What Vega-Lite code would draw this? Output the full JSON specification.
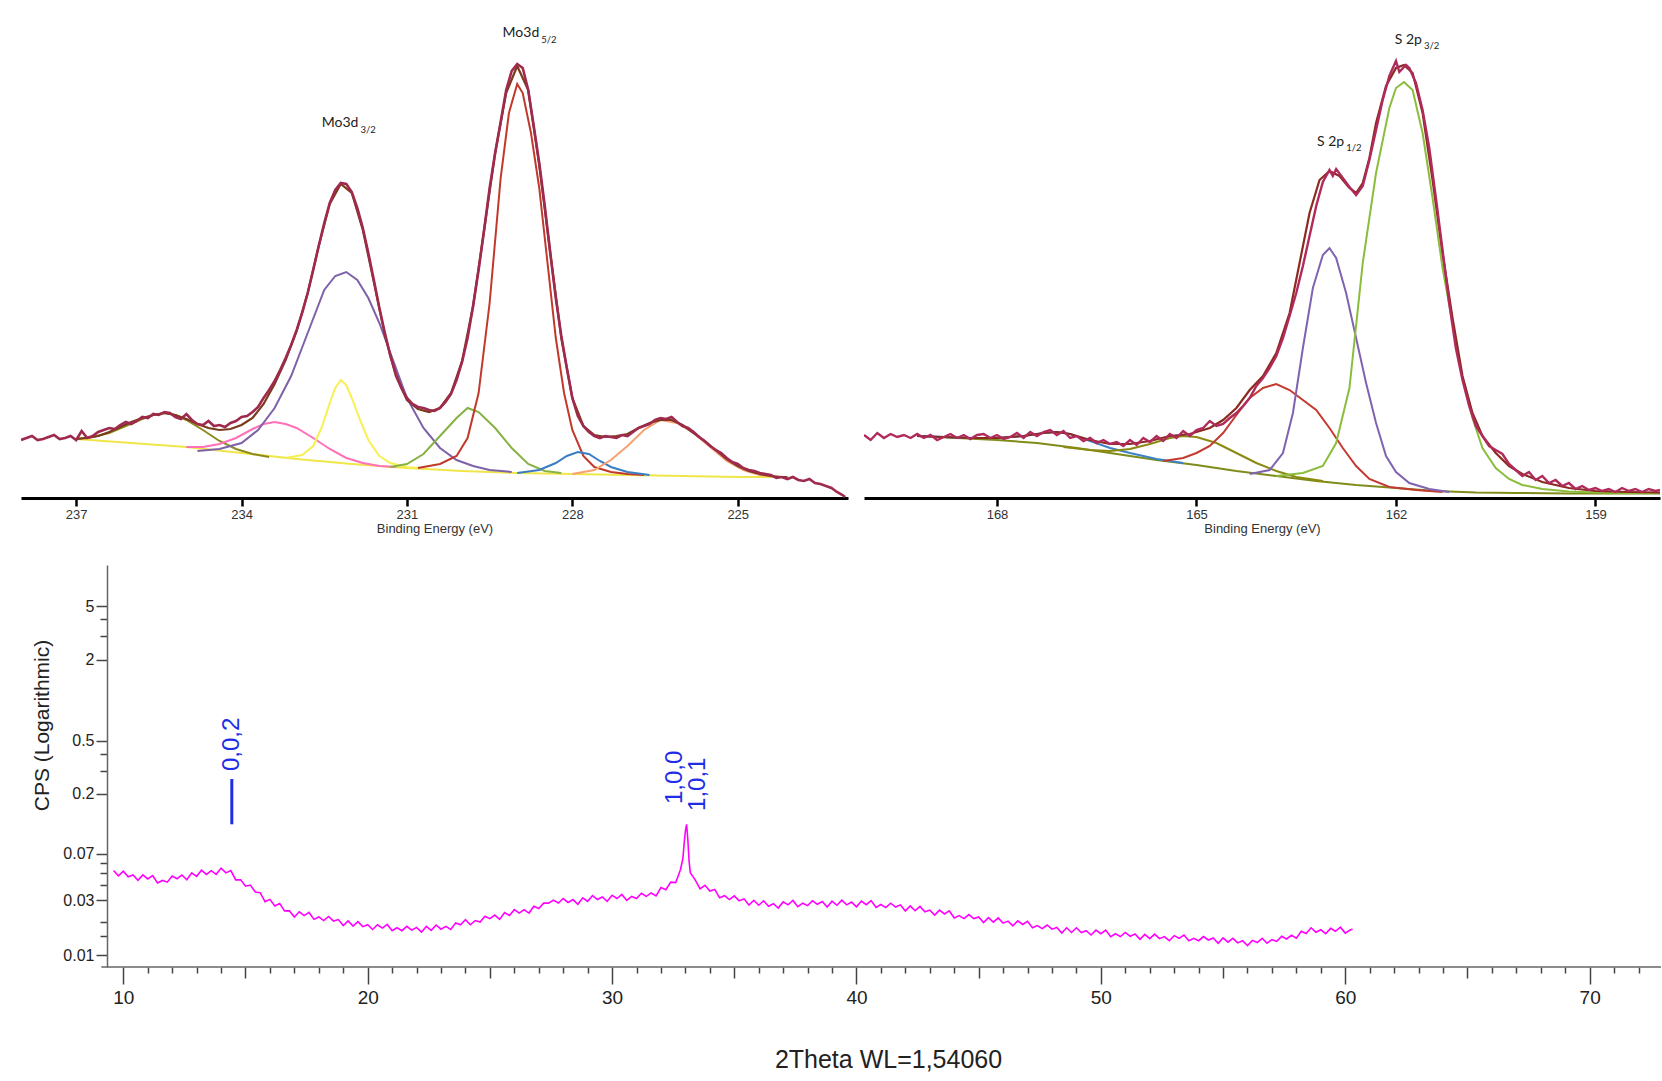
{
"$schema": "https://vega.github.io/schema/vega-lite/v6.json",
"padding": {"left": 21, "top": 10, "right": 0, "bottom": 0},
"autosize": {"type": "pad"},
"background": "white",
"config": {"view": {"stroke": null}, "axis": {"grid": false}},
"datasets": {
"mo_comp": [
{"s":"baseline","e":237.0,"h":59},{"s":"baseline","e":236.0,"h":55},{"s":"baseline","e":235.0,"h":51},{"s":"baseline","e":234.0,"h":45},{"s":"baseline","e":233.0,"h":39},{"s":"baseline","e":232.0,"h":34},{"s":"baseline","e":231.0,"h":30},{"s":"baseline","e":230.0,"h":27},{"s":"baseline","e":229.0,"h":25},{"s":"baseline","e":228.0,"h":24},{"s":"baseline","e":227.0,"h":23},{"s":"baseline","e":226.0,"h":22},{"s":"baseline","e":225.0,"h":21},{"s":"baseline","e":224.1,"h":21},
{"s":"olive","e":237.0,"h":59},{"s":"olive","e":236.7,"h":61},{"s":"olive","e":236.4,"h":65},{"s":"olive","e":236.1,"h":72},{"s":"olive","e":235.8,"h":79},{"s":"olive","e":235.6,"h":83},{"s":"olive","e":235.4,"h":85},{"s":"olive","e":235.2,"h":83},{"s":"olive","e":235.0,"h":78},{"s":"olive","e":234.7,"h":68},{"s":"olive","e":234.4,"h":57},{"s":"olive","e":234.1,"h":49},{"s":"olive","e":233.8,"h":44},{"s":"olive","e":233.5,"h":41},
{"s":"pink","e":235.0,"h":51},{"s":"pink","e":234.7,"h":51},{"s":"pink","e":234.4,"h":54},{"s":"pink","e":234.1,"h":60},{"s":"pink","e":233.8,"h":69},{"s":"pink","e":233.6,"h":74},{"s":"pink","e":233.4,"h":76},{"s":"pink","e":233.2,"h":74},{"s":"pink","e":233.0,"h":70},{"s":"pink","e":232.7,"h":60},{"s":"pink","e":232.4,"h":49},{"s":"pink","e":232.1,"h":40},{"s":"pink","e":231.8,"h":35},{"s":"pink","e":231.5,"h":32},{"s":"pink","e":231.2,"h":31},
{"s":"yellow","e":233.2,"h":40},{"s":"yellow","e":232.9,"h":43},{"s":"yellow","e":232.7,"h":52},{"s":"yellow","e":232.55,"h":70},{"s":"yellow","e":232.4,"h":95},{"s":"yellow","e":232.3,"h":110},{"s":"yellow","e":232.2,"h":118},{"s":"yellow","e":232.1,"h":113},{"s":"yellow","e":232.0,"h":100},{"s":"yellow","e":231.85,"h":78},{"s":"yellow","e":231.7,"h":58},{"s":"yellow","e":231.5,"h":42},{"s":"yellow","e":231.3,"h":35},{"s":"yellow","e":231.0,"h":31},{"s":"yellow","e":230.8,"h":30},
{"s":"purple","e":234.8,"h":47},{"s":"purple","e":234.4,"h":49},{"s":"purple","e":234.0,"h":55},{"s":"purple","e":233.7,"h":68},{"s":"purple","e":233.4,"h":90},{"s":"purple","e":233.1,"h":122},{"s":"purple","e":232.8,"h":165},{"s":"purple","e":232.5,"h":208},{"s":"purple","e":232.3,"h":222},{"s":"purple","e":232.1,"h":226},{"s":"purple","e":231.9,"h":218},{"s":"purple","e":231.7,"h":200},{"s":"purple","e":231.5,"h":175},{"s":"purple","e":231.3,"h":145},{"s":"purple","e":231.0,"h":100},{"s":"purple","e":230.7,"h":70},{"s":"purple","e":230.4,"h":50},{"s":"purple","e":230.1,"h":38},{"s":"purple","e":229.8,"h":32},{"s":"purple","e":229.5,"h":28},{"s":"purple","e":229.1,"h":26},
{"s":"green","e":231.3,"h":31},{"s":"green","e":231.0,"h":34},{"s":"green","e":230.7,"h":44},{"s":"green","e":230.4,"h":62},{"s":"green","e":230.1,"h":80},{"s":"green","e":229.9,"h":90},{"s":"green","e":229.7,"h":86},{"s":"green","e":229.4,"h":70},{"s":"green","e":229.1,"h":50},{"s":"green","e":228.8,"h":34},{"s":"green","e":228.5,"h":27},{"s":"green","e":228.2,"h":25},
{"s":"red","e":230.8,"h":30},{"s":"red","e":230.4,"h":34},{"s":"red","e":230.1,"h":42},{"s":"red","e":229.9,"h":60},{"s":"red","e":229.7,"h":105},{"s":"red","e":229.5,"h":195},{"s":"red","e":229.3,"h":320},{"s":"red","e":229.15,"h":385},{"s":"red","e":229.0,"h":414},{"s":"red","e":228.9,"h":405},{"s":"red","e":228.75,"h":365},{"s":"red","e":228.6,"h":310},{"s":"red","e":228.45,"h":235},{"s":"red","e":228.3,"h":160},{"s":"red","e":228.15,"h":105},{"s":"red","e":228.0,"h":68},{"s":"red","e":227.8,"h":42},{"s":"red","e":227.6,"h":31},{"s":"red","e":227.3,"h":26},{"s":"red","e":227.0,"h":24},{"s":"red","e":226.7,"h":23},
{"s":"blue","e":229.0,"h":25},{"s":"blue","e":228.6,"h":28},{"s":"blue","e":228.3,"h":35},{"s":"blue","e":228.1,"h":42},{"s":"blue","e":227.9,"h":46},{"s":"blue","e":227.7,"h":44},{"s":"blue","e":227.5,"h":37},{"s":"blue","e":227.3,"h":31},{"s":"blue","e":227.0,"h":26},{"s":"blue","e":226.6,"h":23},
{"s":"orange","e":228.0,"h":24},{"s":"orange","e":227.6,"h":28},{"s":"orange","e":227.3,"h":38},{"s":"orange","e":227.0,"h":52},{"s":"orange","e":226.7,"h":68},{"s":"orange","e":226.4,"h":78},{"s":"orange","e":226.1,"h":75},{"s":"orange","e":225.8,"h":65},{"s":"orange","e":225.5,"h":51},{"s":"orange","e":225.2,"h":37},{"s":"orange","e":224.9,"h":28},{"s":"orange","e":224.6,"h":23},{"s":"orange","e":224.3,"h":21}
],
"mo_env": [
{"e":237.0,"h":59},{"e":236.8,"h":60},{"e":236.6,"h":62},{"e":236.4,"h":66},{"e":236.2,"h":71},{"e":236.0,"h":76},{"e":235.8,"h":80},{"e":235.6,"h":83},{"e":235.4,"h":85},{"e":235.2,"h":83},{"e":235.0,"h":79},{"e":234.8,"h":74},{"e":234.6,"h":70},{"e":234.4,"h":68},{"e":234.2,"h":69},{"e":234.0,"h":73},{"e":233.8,"h":80},{"e":233.6,"h":94},{"e":233.4,"h":114},{"e":233.2,"h":138},{"e":233.0,"h":167},{"e":232.8,"h":205},{"e":232.6,"h":252},{"e":232.4,"h":294},{"e":232.2,"h":314},{"e":232.0,"h":305},{"e":231.8,"h":268},{"e":231.6,"h":216},{"e":231.4,"h":163},{"e":231.2,"h":122},{"e":231.0,"h":98},{"e":230.8,"h":89},{"e":230.6,"h":86},{"e":230.4,"h":90},{"e":230.2,"h":105},{"e":230.0,"h":137},{"e":229.8,"h":192},{"e":229.6,"h":268},{"e":229.4,"h":345},{"e":229.2,"h":405},{"e":229.0,"h":432},{"e":228.8,"h":408},{"e":228.6,"h":333},{"e":228.4,"h":245},{"e":228.2,"h":160},{"e":228.0,"h":100},{"e":227.8,"h":72},{"e":227.6,"h":63},{"e":227.4,"h":61},{"e":227.2,"h":62},{"e":227.0,"h":64},{"e":226.8,"h":70},{"e":226.6,"h":75},{"e":226.4,"h":78},{"e":226.2,"h":78},{"e":226.0,"h":73},{"e":225.8,"h":65},{"e":225.6,"h":57},{"e":225.4,"h":48},{"e":225.2,"h":39},{"e":225.0,"h":32},{"e":224.8,"h":27},{"e":224.6,"h":24},{"e":224.4,"h":22},{"e":224.2,"h":21},{"e":224.1,"h":21}
],
"mo_raw": [
{"e":238.0,"h":58},{"e":237.9,"h":60},{"e":237.8,"h":62},{"e":237.7,"h":58},{"e":237.6,"h":59},{"e":237.5,"h":61},{"e":237.4,"h":63},{"e":237.3,"h":59},{"e":237.2,"h":60},{"e":237.1,"h":62},{"e":237.0,"h":58},{"e":236.9,"h":67},{"e":236.8,"h":60},{"e":236.7,"h":62},{"e":236.6,"h":66},{"e":236.5,"h":68},{"e":236.4,"h":70},{"e":236.3,"h":69},{"e":236.2,"h":73},{"e":236.1,"h":76},{"e":236.0,"h":74},{"e":235.9,"h":77},{"e":235.8,"h":81},{"e":235.7,"h":80},{"e":235.6,"h":84},{"e":235.5,"h":83},{"e":235.4,"h":86},{"e":235.3,"h":85},{"e":235.2,"h":81},{"e":235.1,"h":79},{"e":235.0,"h":84},{"e":234.9,"h":78},{"e":234.8,"h":74},{"e":234.7,"h":73},{"e":234.6,"h":77},{"e":234.5,"h":72},{"e":234.4,"h":73},{"e":234.3,"h":71},{"e":234.2,"h":75},{"e":234.1,"h":77},{"e":234.0,"h":81},{"e":233.9,"h":82},{"e":233.8,"h":86},{"e":233.7,"h":91},{"e":233.6,"h":100},{"e":233.5,"h":108},{"e":233.4,"h":117},{"e":233.3,"h":128},{"e":233.2,"h":140},{"e":233.1,"h":153},{"e":233.0,"h":168},{"e":232.9,"h":185},{"e":232.8,"h":205},{"e":232.7,"h":228},{"e":232.6,"h":252},{"e":232.5,"h":275},{"e":232.4,"h":295},{"e":232.3,"h":308},{"e":232.2,"h":315},{"e":232.1,"h":314},{"e":232.0,"h":306},{"e":231.9,"h":290},{"e":231.8,"h":270},{"e":231.7,"h":245},{"e":231.6,"h":218},{"e":231.5,"h":190},{"e":231.4,"h":165},{"e":231.3,"h":142},{"e":231.2,"h":124},{"e":231.1,"h":110},{"e":231.0,"h":100},{"e":230.9,"h":94},{"e":230.8,"h":91},{"e":230.7,"h":90},{"e":230.6,"h":88},{"e":230.5,"h":87},{"e":230.4,"h":90},{"e":230.3,"h":96},{"e":230.2,"h":104},{"e":230.1,"h":118},{"e":230.0,"h":136},{"e":229.9,"h":160},{"e":229.8,"h":192},{"e":229.7,"h":228},{"e":229.6,"h":268},{"e":229.5,"h":310},{"e":229.4,"h":345},{"e":229.3,"h":376},{"e":229.2,"h":408},{"e":229.1,"h":427},{"e":229.0,"h":434},{"e":228.9,"h":430},{"e":228.8,"h":408},{"e":228.7,"h":372},{"e":228.6,"h":335},{"e":228.5,"h":292},{"e":228.4,"h":245},{"e":228.3,"h":200},{"e":228.2,"h":162},{"e":228.1,"h":130},{"e":228.0,"h":100},{"e":227.9,"h":82},{"e":227.8,"h":72},{"e":227.7,"h":66},{"e":227.6,"h":62},{"e":227.5,"h":60},{"e":227.4,"h":62},{"e":227.3,"h":61},{"e":227.2,"h":60},{"e":227.1,"h":63},{"e":227.0,"h":62},{"e":226.9,"h":66},{"e":226.8,"h":70},{"e":226.7,"h":72},{"e":226.6,"h":74},{"e":226.5,"h":78},{"e":226.4,"h":80},{"e":226.3,"h":79},{"e":226.2,"h":81},{"e":226.1,"h":76},{"e":226.0,"h":72},{"e":225.9,"h":70},{"e":225.8,"h":66},{"e":225.7,"h":61},{"e":225.6,"h":57},{"e":225.5,"h":52},{"e":225.4,"h":48},{"e":225.3,"h":45},{"e":225.2,"h":40},{"e":225.1,"h":36},{"e":225.0,"h":34},{"e":224.9,"h":30},{"e":224.8,"h":28},{"e":224.7,"h":27},{"e":224.6,"h":25},{"e":224.5,"h":24},{"e":224.4,"h":23},{"e":224.3,"h":20},{"e":224.2,"h":21},{"e":224.1,"h":19},{"e":224.0,"h":21},{"e":223.9,"h":18},{"e":223.8,"h":17},{"e":223.7,"h":19},{"e":223.6,"h":15},{"e":223.5,"h":14},{"e":223.4,"h":12},{"e":223.3,"h":10},{"e":223.2,"h":6},{"e":223.1,"h":3},{"e":223.05,"h":1}
],
"mo_lab": [{"e":231.88,"h":375,"m":"Mo3d","sub":"3/2"},{"e":228.6,"h":465,"m":"Mo3d","sub":"5/2"}],
"s_comp": [
{"s":"baseline","e":169.2,"h":62},{"s":"baseline","e":168.6,"h":60},{"s":"baseline","e":168.0,"h":58},{"s":"baseline","e":167.4,"h":55},{"s":"baseline","e":166.8,"h":50},{"s":"baseline","e":166.2,"h":44},{"s":"baseline","e":165.6,"h":38},{"s":"baseline","e":165.0,"h":33},{"s":"baseline","e":164.4,"h":27},{"s":"baseline","e":163.8,"h":22},{"s":"baseline","e":163.2,"h":17},{"s":"baseline","e":162.6,"h":13},{"s":"baseline","e":162.0,"h":10},{"s":"baseline","e":161.4,"h":7},{"s":"baseline","e":160.8,"h":5.5},{"s":"baseline","e":160.2,"h":5},{"s":"baseline","e":159.4,"h":4.5},{"s":"baseline","e":158.03,"h":4.5},
{"s":"blue","e":169.2,"h":62},{"s":"blue","e":168.8,"h":61},{"s":"blue","e":168.4,"h":60},{"s":"blue","e":168.0,"h":60},{"s":"blue","e":167.6,"h":62},{"s":"blue","e":167.3,"h":65},{"s":"blue","e":167.1,"h":66},{"s":"blue","e":166.9,"h":64},{"s":"blue","e":166.6,"h":57},{"s":"blue","e":166.3,"h":50},{"s":"blue","e":166.0,"h":45},{"s":"blue","e":165.6,"h":39},{"s":"blue","e":165.2,"h":35},
{"s":"olive","e":167.0,"h":51},{"s":"olive","e":166.6,"h":48},{"s":"olive","e":166.3,"h":47},{"s":"olive","e":166.0,"h":49},{"s":"olive","e":165.7,"h":54},{"s":"olive","e":165.4,"h":60},{"s":"olive","e":165.2,"h":62},{"s":"olive","e":165.0,"h":61},{"s":"olive","e":164.7,"h":55},{"s":"olive","e":164.4,"h":45},{"s":"olive","e":164.1,"h":35},{"s":"olive","e":163.8,"h":27},{"s":"olive","e":163.5,"h":21},{"s":"olive","e":163.1,"h":17},
{"s":"red","e":165.5,"h":37},{"s":"red","e":165.2,"h":40},{"s":"red","e":165.0,"h":45},{"s":"red","e":164.8,"h":52},{"s":"red","e":164.6,"h":65},{"s":"red","e":164.4,"h":83},{"s":"red","e":164.2,"h":100},{"s":"red","e":164.0,"h":110},{"s":"red","e":163.8,"h":114},{"s":"red","e":163.6,"h":108},{"s":"red","e":163.4,"h":98},{"s":"red","e":163.2,"h":88},{"s":"red","e":163.0,"h":70},{"s":"red","e":162.8,"h":50},{"s":"red","e":162.6,"h":32},{"s":"red","e":162.4,"h":19},{"s":"red","e":162.1,"h":11},{"s":"red","e":161.7,"h":8},{"s":"red","e":161.3,"h":6},
{"s":"purple","e":164.2,"h":24},{"s":"purple","e":163.9,"h":28},{"s":"purple","e":163.7,"h":45},{"s":"purple","e":163.55,"h":85},{"s":"purple","e":163.4,"h":150},{"s":"purple","e":163.25,"h":210},{"s":"purple","e":163.1,"h":243},{"s":"purple","e":163.0,"h":250},{"s":"purple","e":162.9,"h":240},{"s":"purple","e":162.75,"h":205},{"s":"purple","e":162.6,"h":160},{"s":"purple","e":162.45,"h":115},{"s":"purple","e":162.3,"h":75},{"s":"purple","e":162.15,"h":42},{"s":"purple","e":162.0,"h":26},{"s":"purple","e":161.8,"h":15},{"s":"purple","e":161.5,"h":9},{"s":"purple","e":161.2,"h":6},
{"s":"green","e":163.8,"h":22},{"s":"green","e":163.4,"h":25},{"s":"green","e":163.1,"h":32},{"s":"green","e":162.9,"h":55},{"s":"green","e":162.7,"h":110},{"s":"green","e":162.5,"h":235},{"s":"green","e":162.3,"h":325},{"s":"green","e":162.1,"h":390},{"s":"green","e":162.0,"h":410},{"s":"green","e":161.88,"h":416},{"s":"green","e":161.75,"h":408},{"s":"green","e":161.6,"h":365},{"s":"green","e":161.45,"h":300},{"s":"green","e":161.3,"h":230},{"s":"green","e":161.15,"h":175},{"s":"green","e":161.0,"h":120},{"s":"green","e":160.85,"h":80},{"s":"green","e":160.7,"h":50},{"s":"green","e":160.5,"h":30},{"s":"green","e":160.3,"h":19},{"s":"green","e":160.1,"h":13},{"s":"green","e":159.8,"h":9},{"s":"green","e":159.4,"h":6.5},{"s":"green","e":159.0,"h":5.5},{"s":"green","e":158.5,"h":5},{"s":"green","e":158.03,"h":5}
],
"s_env": [
{"e":169.2,"h":62},{"e":168.8,"h":61},{"e":168.4,"h":60},{"e":168.0,"h":60},{"e":167.6,"h":62},{"e":167.3,"h":65},{"e":167.1,"h":66},{"e":166.9,"h":64},{"e":166.6,"h":58},{"e":166.3,"h":54},{"e":166.0,"h":54},{"e":165.7,"h":57},{"e":165.4,"h":62},{"e":165.1,"h":64},{"e":164.8,"h":70},{"e":164.6,"h":78},{"e":164.4,"h":90},{"e":164.2,"h":108},{"e":164.0,"h":122},{"e":163.8,"h":145},{"e":163.6,"h":185},{"e":163.45,"h":235},{"e":163.3,"h":285},{"e":163.15,"h":318},{"e":163.0,"h":327},{"e":162.85,"h":322},{"e":162.7,"h":310},{"e":162.6,"h":305},{"e":162.5,"h":315},{"e":162.4,"h":340},{"e":162.3,"h":375},{"e":162.15,"h":412},{"e":162.0,"h":430},{"e":161.88,"h":433},{"e":161.75,"h":425},{"e":161.6,"h":385},{"e":161.45,"h":318},{"e":161.3,"h":245},{"e":161.15,"h":180},{"e":161.0,"h":122},{"e":160.85,"h":85},{"e":160.7,"h":62},{"e":160.5,"h":45},{"e":160.3,"h":32},{"e":160.1,"h":24},{"e":159.8,"h":16},{"e":159.4,"h":10},{"e":159.0,"h":7},{"e":158.5,"h":6},{"e":158.03,"h":5.5}
],
"s_raw": [
{"e":170.0,"h":63},{"e":169.9,"h":58},{"e":169.8,"h":65},{"e":169.7,"h":60},{"e":169.6,"h":64},{"e":169.5,"h":61},{"e":169.4,"h":63},{"e":169.3,"h":60},{"e":169.2,"h":64},{"e":169.1,"h":60},{"e":169.0,"h":63},{"e":168.9,"h":58},{"e":168.8,"h":61},{"e":168.7,"h":64},{"e":168.6,"h":60},{"e":168.5,"h":63},{"e":168.4,"h":59},{"e":168.3,"h":63},{"e":168.2,"h":64},{"e":168.1,"h":60},{"e":168.0,"h":63},{"e":167.9,"h":59},{"e":167.8,"h":61},{"e":167.7,"h":65},{"e":167.6,"h":60},{"e":167.5,"h":66},{"e":167.4,"h":62},{"e":167.3,"h":66},{"e":167.2,"h":68},{"e":167.1,"h":63},{"e":167.0,"h":67},{"e":166.9,"h":60},{"e":166.8,"h":62},{"e":166.7,"h":57},{"e":166.6,"h":60},{"e":166.5,"h":55},{"e":166.4,"h":58},{"e":166.3,"h":54},{"e":166.2,"h":56},{"e":166.1,"h":52},{"e":166.0,"h":58},{"e":165.9,"h":53},{"e":165.8,"h":60},{"e":165.7,"h":56},{"e":165.6,"h":62},{"e":165.5,"h":57},{"e":165.4,"h":64},{"e":165.3,"h":60},{"e":165.2,"h":67},{"e":165.1,"h":62},{"e":165.0,"h":68},{"e":164.9,"h":70},{"e":164.8,"h":77},{"e":164.7,"h":72},{"e":164.6,"h":74},{"e":164.5,"h":80},{"e":164.4,"h":85},{"e":164.3,"h":92},{"e":164.2,"h":100},{"e":164.1,"h":112},{"e":164.0,"h":120},{"e":163.9,"h":130},{"e":163.8,"h":142},{"e":163.7,"h":160},{"e":163.6,"h":182},{"e":163.5,"h":205},{"e":163.4,"h":232},{"e":163.3,"h":262},{"e":163.2,"h":292},{"e":163.1,"h":316},{"e":163.0,"h":328},{"e":162.95,"h":322},{"e":162.9,"h":329},{"e":162.8,"h":320},{"e":162.7,"h":311},{"e":162.6,"h":303},{"e":162.5,"h":312},{"e":162.4,"h":338},{"e":162.3,"h":368},{"e":162.2,"h":398},{"e":162.1,"h":422},{"e":162.0,"h":437},{"e":161.95,"h":426},{"e":161.85,"h":433},{"e":161.8,"h":430},{"e":161.7,"h":415},{"e":161.6,"h":388},{"e":161.5,"h":350},{"e":161.4,"h":300},{"e":161.3,"h":248},{"e":161.2,"h":195},{"e":161.1,"h":150},{"e":161.0,"h":118},{"e":160.9,"h":92},{"e":160.8,"h":72},{"e":160.7,"h":62},{"e":160.6,"h":52},{"e":160.5,"h":48},{"e":160.4,"h":44},{"e":160.3,"h":34},{"e":160.2,"h":28},{"e":160.1,"h":22},{"e":160.0,"h":26},{"e":159.9,"h":18},{"e":159.8,"h":22},{"e":159.7,"h":15},{"e":159.6,"h":18},{"e":159.5,"h":12},{"e":159.4,"h":15},{"e":159.3,"h":9},{"e":159.2,"h":12},{"e":159.1,"h":8},{"e":159.0,"h":10},{"e":158.9,"h":7},{"e":158.8,"h":9},{"e":158.7,"h":6},{"e":158.6,"h":10},{"e":158.5,"h":7},{"e":158.4,"h":9},{"e":158.3,"h":6},{"e":158.2,"h":9},{"e":158.1,"h":7},{"e":158.03,"h":8}
],
"s_lab": [{"e":162.78,"h":356,"m":"S 2p","sub":"1/2"},{"e":161.61,"h":458,"m":"S 2p","sub":"3/2"}],
"xrd": [
{"t":9.6,"c":0.052},{"t":9.8,"c":0.0473},{"t":10.0,"c":0.0514},{"t":10.2,"c":0.0464},{"t":10.4,"c":0.048},{"t":10.6,"c":0.0436},{"t":10.8,"c":0.048},{"t":11.0,"c":0.0446},{"t":11.2,"c":0.0474},{"t":11.4,"c":0.0415},{"t":11.6,"c":0.0434},{"t":11.8,"c":0.0421},{"t":12.0,"c":0.047},{"t":12.2,"c":0.0448},{"t":12.4,"c":0.048},{"t":12.6,"c":0.044},{"t":12.8,"c":0.0499},{"t":13.0,"c":0.0468},{"t":13.2,"c":0.0523},{"t":13.4,"c":0.0485},{"t":13.6,"c":0.0518},{"t":13.8,"c":0.0485},{"t":14.0,"c":0.0543},{"t":14.2,"c":0.0498},{"t":14.4,"c":0.052},{"t":14.6,"c":0.0439},{"t":14.8,"c":0.0439},{"t":15.0,"c":0.0391},{"t":15.2,"c":0.0399},{"t":15.4,"c":0.0351},{"t":15.6,"c":0.0347},{"t":15.8,"c":0.0293},{"t":16.0,"c":0.0306},{"t":16.2,"c":0.027},{"t":16.4,"c":0.0283},{"t":16.6,"c":0.0246},{"t":16.8,"c":0.0246},{"t":17.0,"c":0.0219},{"t":17.2,"c":0.0242},{"t":17.4,"c":0.0225},{"t":17.6,"c":0.0239},{"t":17.8,"c":0.0209},{"t":18.0,"c":0.0219},{"t":18.2,"c":0.0204},{"t":18.4,"c":0.0221},{"t":18.6,"c":0.0202},{"t":18.8,"c":0.0208},{"t":19.0,"c":0.0185},{"t":19.2,"c":0.0203},{"t":19.4,"c":0.0183},{"t":19.6,"c":0.02},{"t":19.8,"c":0.0181},{"t":20.0,"c":0.0188},{"t":20.2,"c":0.0171},{"t":20.4,"c":0.0188},{"t":20.6,"c":0.0176},{"t":20.8,"c":0.0189},{"t":21.0,"c":0.0167},{"t":21.2,"c":0.0177},{"t":21.4,"c":0.0167},{"t":21.6,"c":0.0182},{"t":21.8,"c":0.0169},{"t":22.0,"c":0.0178},{"t":22.2,"c":0.0162},{"t":22.4,"c":0.0182},{"t":22.6,"c":0.0168},{"t":22.8,"c":0.0187},{"t":23.0,"c":0.0172},{"t":23.2,"c":0.0182},{"t":23.4,"c":0.0171},{"t":23.6,"c":0.0195},{"t":23.8,"c":0.0188},{"t":24.0,"c":0.0208},{"t":24.2,"c":0.0188},{"t":24.4,"c":0.0204},{"t":24.6,"c":0.0198},{"t":24.8,"c":0.0222},{"t":25.0,"c":0.0212},{"t":25.2,"c":0.0227},{"t":25.4,"c":0.0209},{"t":25.6,"c":0.0238},{"t":25.8,"c":0.0225},{"t":26.0,"c":0.0252},{"t":26.2,"c":0.0236},{"t":26.4,"c":0.0252},{"t":26.6,"c":0.0236},{"t":26.8,"c":0.0269},{"t":27.0,"c":0.0258},{"t":27.2,"c":0.0285},{"t":27.4,"c":0.0285},{"t":27.6,"c":0.0302},{"t":27.8,"c":0.0286},{"t":28.0,"c":0.0311},{"t":28.2,"c":0.0289},{"t":28.4,"c":0.0305},{"t":28.6,"c":0.0279},{"t":28.8,"c":0.0315},{"t":29.0,"c":0.0295},{"t":29.2,"c":0.0329},{"t":29.4,"c":0.0305},{"t":29.6,"c":0.032},{"t":29.8,"c":0.0295},{"t":30.0,"c":0.033},{"t":30.2,"c":0.0311},{"t":30.4,"c":0.0336},{"t":30.6,"c":0.03},{"t":30.8,"c":0.0323},{"t":31.0,"c":0.0311},{"t":31.2,"c":0.0343},{"t":31.4,"c":0.0324},{"t":31.6,"c":0.0345},{"t":31.8,"c":0.0326},{"t":32.0,"c":0.0381},{"t":32.2,"c":0.0366},{"t":32.4,"c":0.0421},{"t":32.6,"c":0.0417},{"t":32.8,"c":0.053},{"t":32.9,"c":0.065},{"t":32.95,"c":0.085},{"t":33.0,"c":0.105},{"t":33.05,"c":0.118},{"t":33.1,"c":0.09},{"t":33.15,"c":0.062},{"t":33.2,"c":0.05},{"t":33.4,"c":0.0439},{"t":33.6,"c":0.0372},{"t":33.8,"c":0.0397},{"t":34.0,"c":0.0357},{"t":34.2,"c":0.0368},{"t":34.4,"c":0.0315},{"t":34.6,"c":0.0328},{"t":34.8,"c":0.0305},{"t":35.0,"c":0.0327},{"t":35.2,"c":0.0298},{"t":35.4,"c":0.0309},{"t":35.6,"c":0.0275},{"t":35.8,"c":0.0301},{"t":36.0,"c":0.0274},{"t":36.2,"c":0.0298},{"t":36.4,"c":0.0269},{"t":36.6,"c":0.0282},{"t":36.8,"c":0.026},{"t":37.0,"c":0.0292},{"t":37.2,"c":0.0276},{"t":37.4,"c":0.03},{"t":37.6,"c":0.0267},{"t":37.8,"c":0.0285},{"t":38.0,"c":0.0272},{"t":38.2,"c":0.0298},{"t":38.4,"c":0.0279},{"t":38.6,"c":0.0294},{"t":38.8,"c":0.0265},{"t":39.0,"c":0.0296},{"t":39.2,"c":0.0274},{"t":39.4,"c":0.0302},{"t":39.6,"c":0.0276},{"t":39.8,"c":0.0291},{"t":40.0,"c":0.0266},{"t":40.2,"c":0.0296},{"t":40.4,"c":0.0277},{"t":40.6,"c":0.0299},{"t":40.8,"c":0.0263},{"t":41.0,"c":0.0278},{"t":41.2,"c":0.0262},{"t":41.4,"c":0.0285},{"t":41.6,"c":0.0265},{"t":41.8,"c":0.0276},{"t":42.0,"c":0.0246},{"t":42.2,"c":0.0271},{"t":42.4,"c":0.0247},{"t":42.6,"c":0.0268},{"t":42.8,"c":0.0242},{"t":43.0,"c":0.025},{"t":43.2,"c":0.0227},{"t":43.4,"c":0.025},{"t":43.6,"c":0.0232},{"t":43.8,"c":0.0246},{"t":44.0,"c":0.0215},{"t":44.2,"c":0.0225},{"t":44.4,"c":0.0212},{"t":44.6,"c":0.0229},{"t":44.8,"c":0.0212},{"t":45.0,"c":0.0219},{"t":45.2,"c":0.0196},{"t":45.4,"c":0.0216},{"t":45.6,"c":0.0198},{"t":45.8,"c":0.0215},{"t":46.0,"c":0.0194},{"t":46.2,"c":0.0202},{"t":46.4,"c":0.0184},{"t":46.6,"c":0.0203},{"t":46.8,"c":0.0189},{"t":47.0,"c":0.0201},{"t":47.2,"c":0.0177},{"t":47.4,"c":0.0185},{"t":47.6,"c":0.0174},{"t":47.8,"c":0.0187},{"t":48.0,"c":0.0172},{"t":48.2,"c":0.0178},{"t":48.4,"c":0.0159},{"t":48.6,"c":0.0177},{"t":48.8,"c":0.0161},{"t":49.0,"c":0.0177},{"t":49.2,"c":0.0161},{"t":49.4,"c":0.0167},{"t":49.6,"c":0.0153},{"t":49.8,"c":0.0169},{"t":50.0,"c":0.0157},{"t":50.2,"c":0.0169},{"t":50.4,"c":0.0148},{"t":50.6,"c":0.0157},{"t":50.8,"c":0.0148},{"t":51.0,"c":0.0161},{"t":51.2,"c":0.0149},{"t":51.4,"c":0.0156},{"t":51.6,"c":0.014},{"t":51.8,"c":0.0155},{"t":52.0,"c":0.0142},{"t":52.2,"c":0.0156},{"t":52.4,"c":0.0142},{"t":52.6,"c":0.0148},{"t":52.8,"c":0.0136},{"t":53.0,"c":0.0151},{"t":53.2,"c":0.0143},{"t":53.4,"c":0.0153},{"t":53.6,"c":0.0136},{"t":53.8,"c":0.0143},{"t":54.0,"c":0.0136},{"t":54.2,"c":0.0148},{"t":54.4,"c":0.0138},{"t":54.6,"c":0.0144},{"t":54.8,"c":0.0129},{"t":55.0,"c":0.0144},{"t":55.2,"c":0.0132},{"t":55.4,"c":0.0143},{"t":55.6,"c":0.013},{"t":55.8,"c":0.0136},{"t":56.0,"c":0.0123},{"t":56.2,"c":0.0137},{"t":56.4,"c":0.0131},{"t":56.6,"c":0.0143},{"t":56.8,"c":0.0129},{"t":57.0,"c":0.0139},{"t":57.2,"c":0.0134},{"t":57.4,"c":0.0149},{"t":57.6,"c":0.0141},{"t":57.8,"c":0.0152},{"t":58.0,"c":0.0143},{"t":58.2,"c":0.0165},{"t":58.4,"c":0.0158},{"t":58.6,"c":0.0177},{"t":58.8,"c":0.0162},{"t":59.0,"c":0.017},{"t":59.2,"c":0.0157},{"t":59.4,"c":0.0175},{"t":59.6,"c":0.0165},{"t":59.8,"c":0.0179},{"t":60.0,"c":0.0159},{"t":60.2,"c":0.0169},{"t":60.3,"c":0.0172}
],
"xaxis_line": [{"t":9.1,"t2":72.92,"c":0.0076}],
"hkl_line": [{"t":14.44,"c":0.259,"c2":0.118}],
"hkl": [{"t":14.44,"c":0.297,"lab":"0,0,2"},{"t":32.57,"c":0.168,"lab":"1,0,0"},{"t":33.51,"c":0.149,"lab":"1,0,1"}]
},
"vconcat": [
{
"hconcat": [
{
"width": 827, "height": 488,
"layer": [
{"data": {"name": "mo_comp"}, "mark": {"type": "line", "strokeWidth": 2, "clip": true},
 "encoding": {
  "x": {"field": "e", "type": "quantitative", "scale": {"domain": [238, 223], "nice": false, "zero": false},
   "axis": {"values": [237, 234, 231, 228, 225], "format": "d", "title": "Binding Energy (eV)", "domainColor": "#000", "domainWidth": 3, "tickColor": "#000", "tickWidth": 2.5, "tickSize": 8, "labelFont": "Liberation Sans Narrow, Liberation Sans, sans-serif", "labelFontSize": 13, "labelColor": "#333", "labelPadding": 2, "labelFlush": false, "titleFont": "Liberation Sans Narrow, Liberation Sans, sans-serif", "titleFontSize": 13, "titleFontWeight": "normal", "titleColor": "#333", "titlePadding": 1}},
  "y": {"field": "h", "type": "quantitative", "scale": {"domain": [0, 488], "nice": false, "zero": false}, "axis": null},
  "color": {"field": "s", "type": "nominal", "legend": null, "scale": {"domain": ["baseline", "olive", "pink", "yellow", "purple", "green", "red", "blue", "orange"], "range": ["#f0e64a", "#8c8a1c", "#ff70b8", "#f7f050", "#7d62a9", "#86b244", "#c0392b", "#3b7dc4", "#f7a071"]}}
 }},
{"data": {"name": "mo_env"}, "mark": {"type": "line", "strokeWidth": 2.2, "color": "#7a3a1c", "clip": true},
 "encoding": {"x": {"field": "e", "type": "quantitative"}, "y": {"field": "h", "type": "quantitative"}}},
{"data": {"name": "mo_raw"}, "mark": {"type": "line", "strokeWidth": 2.6, "color": "#a02a4e", "clip": true},
 "encoding": {"x": {"field": "e", "type": "quantitative"}, "y": {"field": "h", "type": "quantitative"}}},
{"data": {"name": "mo_lab"}, "mark": {"type": "text", "align": "right", "baseline": "middle", "font": "Lato, Open Sans, sans-serif", "fontSize": 14, "color": "#222"},
 "encoding": {"x": {"field": "e", "type": "quantitative"}, "y": {"field": "h", "type": "quantitative"}, "text": {"field": "m"}}},
{"data": {"name": "mo_lab"}, "mark": {"type": "text", "align": "left", "baseline": "middle", "dx": 2, "dy": 7, "font": "Lato, Open Sans, sans-serif", "fontSize": 9.5, "color": "#222"},
 "encoding": {"x": {"field": "e", "type": "quantitative"}, "y": {"field": "h", "type": "quantitative"}, "text": {"field": "sub"}}}
]
},
{
"width": 796, "height": 488,
"layer": [
{"data": {"name": "s_comp"}, "mark": {"type": "line", "strokeWidth": 2, "clip": true},
 "encoding": {
  "x": {"field": "e", "type": "quantitative", "scale": {"domain": [170, 158.03], "nice": false, "zero": false},
   "axis": {"values": [168, 165, 162, 159], "format": "d", "title": "Binding Energy (eV)", "domainColor": "#000", "domainWidth": 3, "tickColor": "#000", "tickWidth": 2.5, "tickSize": 8, "labelFont": "Liberation Sans Narrow, Liberation Sans, sans-serif", "labelFontSize": 13, "labelColor": "#333", "labelPadding": 2, "labelFlush": false, "titleFont": "Liberation Sans Narrow, Liberation Sans, sans-serif", "titleFontSize": 13, "titleFontWeight": "normal", "titleColor": "#333", "titlePadding": 1}},
  "y": {"field": "h", "type": "quantitative", "scale": {"domain": [0, 488], "nice": false, "zero": false}, "axis": null},
  "color": {"field": "s", "type": "nominal", "legend": null, "scale": {"domain": ["baseline", "blue", "olive", "red", "purple", "green"], "range": ["#7f8c1a", "#3b82c8", "#8a8a10", "#c43a30", "#7f63b0", "#8bbd3c"]}}
 }},
{"data": {"name": "s_env"}, "mark": {"type": "line", "strokeWidth": 2.2, "color": "#8b2a1e", "clip": true},
 "encoding": {"x": {"field": "e", "type": "quantitative"}, "y": {"field": "h", "type": "quantitative"}}},
{"data": {"name": "s_raw"}, "mark": {"type": "line", "strokeWidth": 2.4, "color": "#b02a5c", "clip": true},
 "encoding": {"x": {"field": "e", "type": "quantitative"}, "y": {"field": "h", "type": "quantitative"}}},
{"data": {"name": "s_lab"}, "mark": {"type": "text", "align": "right", "baseline": "middle", "font": "Lato, Open Sans, sans-serif", "fontSize": 14, "color": "#222"},
 "encoding": {"x": {"field": "e", "type": "quantitative"}, "y": {"field": "h", "type": "quantitative"}, "text": {"field": "m"}}},
{"data": {"name": "s_lab"}, "mark": {"type": "text", "align": "left", "baseline": "middle", "dx": 2, "dy": 6, "font": "Lato, Open Sans, sans-serif", "fontSize": 9.5, "color": "#222"},
 "encoding": {"x": {"field": "e", "type": "quantitative"}, "y": {"field": "h", "type": "quantitative"}, "text": {"field": "sub"}}}
]
}
],
"spacing": 16,
"resolve": {"scale": {"x": "independent", "y": "independent", "color": "independent"}}
},
{
"width": 1640, "height": 402,
"layer": [
{"data": {"name": "xrd"}, "mark": {"type": "line", "strokeWidth": 1.6, "color": "#ff00ff", "clip": true},
 "encoding": {
  "x": {"field": "t", "type": "quantitative", "scale": {"domain": [5.814, 72.92], "nice": false, "zero": false},
   "axis": {"values": [10,11,12,13,14,15,16,17,18,19,20,21,22,23,24,25,26,27,28,29,30,31,32,33,34,35,36,37,38,39,40,41,42,43,44,45,46,47,48,49,50,51,52,53,54,55,56,57,58,59,60,61,62,63,64,65,66,67,68,69,70,71,72],
    "tickCount": 1000, "format": "d",
    "labelExpr": "datum.value % 10 === 0 ? datum.label : ''",
    "tickSize": {"expr": "datum.value % 10 === 0 ? 17 : (datum.value % 5 === 0 ? 11 : 6)"},
    "labelOverlap": false, "labelFlush": false, "labelPadding": 4, "domain": false,
    "labelFont": "Liberation Sans Narrow, Liberation Sans, sans-serif", "labelFontSize": 19, "labelColor": "#222",
    "tickColor": "#444", "tickWidth": 1.5,
    "title": "2Theta WL=1,54060", "titleFont": "Liberation Sans Narrow, Liberation Sans, sans-serif", "titleFontSize": 25, "titleFontWeight": "normal", "titleColor": "#222", "titlePadding": 40, "titleX": 867}},
  "y": {"field": "c", "type": "quantitative", "scale": {"type": "symlog", "constant": 0.003, "domain": [0.0076, 10.1], "nice": false, "zero": false},
   "axis": {"values": [0.01, 0.015, 0.02, 0.03, 0.04, 0.05, 0.06, 0.07, 0.2, 0.3, 0.4, 0.5, 2, 3, 4, 5],
    "tickCount": 1000, "offset": -86,
    "format": "~g",
    "labelExpr": "indexof([0.01, 0.03, 0.07, 0.2, 0.5, 2, 5], datum.value) >= 0 ? datum.label : ''",
    "tickSize": {"expr": "indexof([0.01, 0.03, 0.07, 0.2, 0.5, 2, 5], datum.value) >= 0 ? 11 : 7"},
    "labelOverlap": false, "labelFlush": false, "labelPadding": 2,
    "labelFont": "Liberation Sans Narrow, Liberation Sans, sans-serif", "labelFontSize": 16, "labelColor": "#222",
    "tickColor": "#444", "tickWidth": 1.5, "domainColor": "#666", "domainWidth": 1.5,
    "title": "CPS (Logarithmic)", "titleFont": "Liberation Sans, Arial, sans-serif", "titleFontSize": 21, "titleFontWeight": "normal", "titleColor": "#222", "titlePadding": 10, "titleY": 160}}
 }},
{"data": {"name": "xaxis_line"}, "mark": {"type": "rule", "color": "#666", "strokeWidth": 1.5},
 "encoding": {"x": {"field": "t", "type": "quantitative"}, "x2": {"field": "t2"}, "y": {"field": "c", "type": "quantitative"}}},
{"data": {"name": "hkl_line"}, "mark": {"type": "rule", "color": "#1f2ee6", "strokeWidth": 3},
 "encoding": {"x": {"field": "t", "type": "quantitative"}, "y": {"field": "c", "type": "quantitative"}, "y2": {"field": "c2"}}},
{"data": {"name": "hkl"}, "mark": {"type": "text", "angle": 270, "align": "left", "baseline": "middle", "font": "Liberation Sans, Arial, sans-serif", "fontSize": 24, "color": "#1f2ee6"},
 "encoding": {"x": {"field": "t", "type": "quantitative"}, "y": {"field": "c", "type": "quantitative"}, "text": {"field": "lab"}}}
]
}
],
"spacing": 30,
"resolve": {"scale": {"x": "independent", "y": "independent", "color": "independent"}}
}
